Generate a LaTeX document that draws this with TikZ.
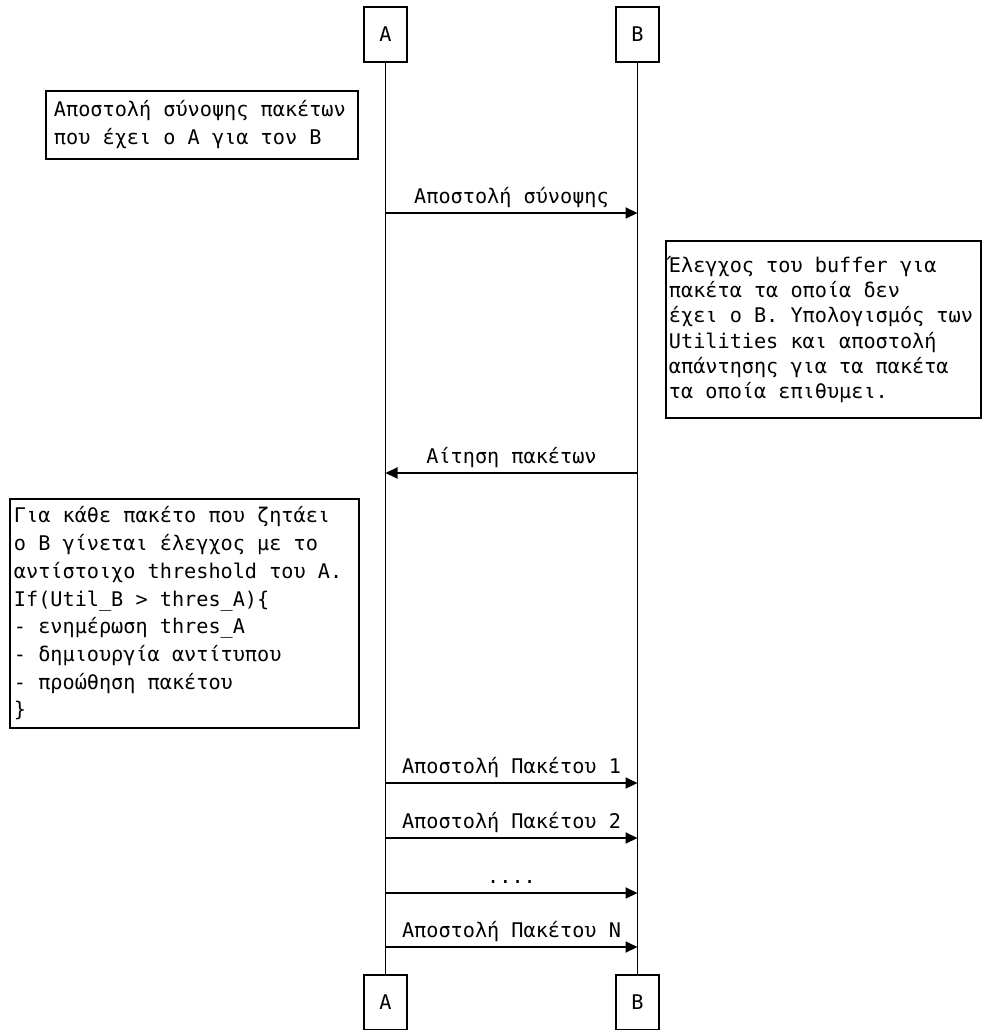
\documentclass[tikz,border=0pt]{standalone}
\usepackage{fontspec}
\setmonofont{DejaVu Sans Mono}
\usetikzlibrary{arrows.meta}

\begin{document}
\begin{tikzpicture}[x=1bp, y=-1bp, line width=1.9bp,
    every node/.style={font=\ttfamily\fontsize{20.2bp}{27bp}\selectfont},
    actor/.style={draw, minimum width=43bp, minimum height=55bp, inner sep=0pt},
    note/.style={draw, anchor=north west, align=flush left, inner ysep=0pt},
    msg/.style={-{Triangle[length=12bp,width=11bp]}},
    lbl/.style={midway, anchor=base, yshift=10bp, inner sep=0pt}]

\useasboundingbox (0,0) rectangle (982,1030);

% actors and lifelines
\node[actor] (Atop) at (385.5,34.5) {A};
\node[actor] (Btop) at (637.5,34.5) {B};
\node[actor] (Abot) at (385.5,1002.5) {A};
\node[actor] (Bbot) at (637.5,1002.5) {B};

\draw (Atop) -- (Abot);
\draw (Btop) -- (Bbot);

% notes
\node[note, text width=296bp, inner xsep=8bp, minimum height=68bp,
      font=\ttfamily\fontsize{20.2bp}{28bp}\selectfont] (sumnote) at (45,90)
    {Αποστολή σύνοψης πακέτων\\που έχει ο Α για τον Β};

\node[note, text width=309bp, inner xsep=3bp, minimum height=177bp,
      font=\ttfamily\fontsize{20.2bp}{25.3bp}\selectfont] (bufnote) at (665,240)
    {Έλεγχος του buffer για\\πακέτα τα οποία δεν\\έχει ο Β. Υπολογισμός των\\Utilities και αποστολή\\απάντησης για τα πακέτα\\τα οποία επιθυμει.};

\node[note, text width=341bp, inner xsep=4bp, minimum height=229bp,
      font=\ttfamily\fontsize{20.2bp}{27.7bp}\selectfont] (fwdnote) at (9,498)
    {Για κάθε πακέτο που ζητάει\\ο Β γίνεται έλεγχος με το\\αντίστοιχο threshold του Α.\\If(Util\_B > thres\_A)\{\\- ενημέρωση thres\_A\\- δημιουργία αντίτυπου\\- προώθηση πακέτου\\\}};

% summary and request
\coordinate (as) at (Atop |- 0,213);
\coordinate (bs) at (Btop |- 0,213);
\draw[msg] (as) -- node[lbl] (sumlbl) {Αποστολή σύνοψης} (bs);

\coordinate (ar) at (Atop |- 0,473);
\coordinate (br) at (Btop |- 0,473);
\draw[msg] (br) -- node[lbl] (reqlbl) {Αίτηση πακέτων} (ar);

% packets
\foreach \y/\n in {783/1, 838/2, 947/N} {
    \coordinate (pa\n) at (Atop |- 0,\y);
    \coordinate (pb\n) at (Btop |- 0,\y);
    \draw[msg] (pa\n) -- node[lbl] (pl\n) {Αποστολή Πακέτου \n} (pb\n);
}
\coordinate (padots) at (Atop |- 0,893);
\coordinate (pbdots) at (Btop |- 0,893);
\draw[msg] (padots) -- node[lbl] (pldots) {....} (pbdots);

\end{tikzpicture}
\end{document}
